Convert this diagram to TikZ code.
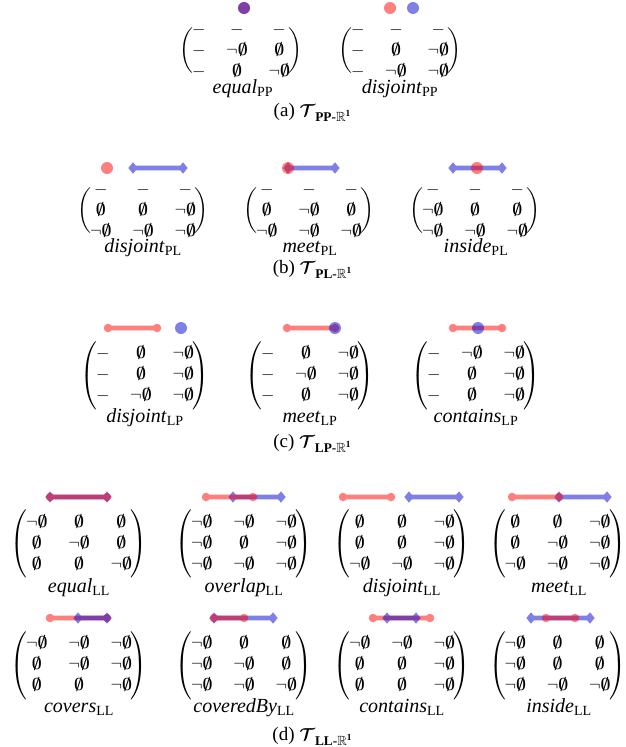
\documentclass[tikz,border=0pt]{standalone}
\usepackage{amsmath,amssymb}
\usepackage{fontspec}
\setmainfont{Liberation Serif}
\usetikzlibrary{shapes.geometric}
\definecolor{redC}{RGB}{255,0,0}
\definecolor{blueC}{RGB}{0,0,210}
\newcommand{\ZE}{\boldsymbol{\emptyset}}
\newcommand{\ZN}{\neg\ZE}
\newcommand{\PM}[1]{\left(\mkern-1.5mu\begin{matrix}#1\end{matrix}\mkern-1.5mu\right)}
\newcommand{\matfont}{\fontsize{19}{21}\selectfont\arraycolsep=10.4pt\relax}
\newcommand{\smalld}{\delimiterfactor=700\relax\delimitershortfall=20pt\relax}
\tikzset{
  mat/.style={inner sep=0pt, font=\matfont},
  lbl/.style={inner sep=0pt, anchor=base, font=\fontsize{20}{24}\selectfont},
  capt/.style={inner sep=0pt, anchor=base, font=\fontsize{19}{23}\selectfont},
  grp/.style={transparency group, opacity=0.5},
  rdot/.style={circle, fill=redC, minimum size=12pt, inner sep=0pt},
  bdot/.style={circle, fill=blueC, minimum size=12pt, inner sep=0pt},
  rcirc/.style={circle, fill=redC, minimum size=8.5pt, inner sep=0pt},
  bdia/.style={diamond, fill=blueC, minimum width=9.5pt, minimum height=11.5pt, inner sep=0pt},
  rseg/.style={draw=redC, line width=4.6pt},
  bseg/.style={draw=blueC, line width=4.6pt},
}
\begin{document}
\begin{tikzpicture}[x=1pt,y=-1pt]
\useasboundingbox (0,0) rectangle (625,747);

% ---------------- (a) PP ----------------
\begin{scope}[grp] \node[rdot] (aEqR) at (244,8) {}; \end{scope}
\begin{scope}[grp] \node[bdot] (aEqB) at (244,8) {}; \end{scope}
\begin{scope}[grp] \node[rdot] (aDjR) at (390,8) {}; \end{scope}
\begin{scope}[grp] \node[bdot] (aDjB) at (413,8) {}; \end{scope}

\node[mat] (mEqPP) at (241,51) {\smalld$\PM{ - & - & - \\ - & \ZN & \ZE \\ - & \ZE & \ZN }$};
\node[mat] (mDjPP) at (400,51) {\smalld$\PM{ - & - & - \\ - & \ZE & \ZN \\ - & \ZN & \ZN }$};
\node[lbl] (lEqPP) at (243,93) {\textit{equal}\textsubscript{\upshape PP}};
\node[lbl] (lDjPP) at (400,93) {\textit{disjoint}\textsubscript{\upshape PP}};
\node[capt] (capA) at (312.5,116) {(a) $\boldsymbol{\mathcal{T}}$\textsubscript{\bfseries PP-$\mathbb{R}^{\mathbf{1}}$}};

% ---------------- (b) PL ----------------
\begin{scope}[grp] \node[rdot] (bDjR) at (107,168) {}; \end{scope}
\begin{scope}[grp]
  \node[bdia] (bDjB1) at (133,168) {}; \node[bdia] (bDjB2) at (183,168) {};
  \draw[bseg] (bDjB1.center) -- (bDjB2.center);
\end{scope}
\begin{scope}[grp]
  \node[bdia] (bMtB1) at (288,168) {}; \node[bdia] (bMtB2) at (335,168) {};
  \draw[bseg] (bMtB1.center) -- (bMtB2.center);
\end{scope}
\begin{scope}[grp] \node[rdot] (bMtR) at (288,168) {}; \end{scope}
\begin{scope}[grp]
  \node[bdia] (bInB1) at (453,168) {}; \node[bdia] (bInB2) at (502,168) {};
  \draw[bseg] (bInB1.center) -- (bInB2.center);
\end{scope}
\begin{scope}[grp] \node[rdot] (bInR) at (477,168) {}; \end{scope}

\node[mat] (mDjPL) at (143,211) {\smalld$\PM{ - & - & - \\ \ZE & \ZE & \ZN \\ \ZN & \ZN & \ZN }$};
\node[mat] (mMtPL) at (309,211) {\smalld$\PM{ - & - & - \\ \ZE & \ZN & \ZE \\ \ZN & \ZN & \ZN }$};
\node[mat] (mInPL) at (475,211) {\smalld$\PM{ - & - & - \\ \ZN & \ZE & \ZE \\ \ZN & \ZN & \ZN }$};
\node[lbl] (lDjPL) at (143,252) {\textit{disjoint}\textsubscript{\upshape PL}};
\node[lbl] (lMtPL) at (310,252) {\textit{meet}\textsubscript{\upshape PL}};
\node[lbl] (lInPL) at (476,252) {\textit{inside}\textsubscript{\upshape PL}};
\node[capt] (capB) at (312.5,273) {(b) $\boldsymbol{\mathcal{T}}$\textsubscript{\bfseries PL-$\mathbb{R}^{\mathbf{1}}$}};

% ---------------- (c) LP ----------------
\begin{scope}[grp]
  \node[rcirc] (cDjR1) at (108,328) {}; \node[rcirc] (cDjR2) at (157,328) {};
  \draw[rseg] (cDjR1.center) -- (cDjR2.center);
\end{scope}
\begin{scope}[grp] \node[bdot] (cDjB) at (181,328) {}; \end{scope}
\begin{scope}[grp]
  \node[rcirc] (cMtR1) at (287,328) {}; \node[rcirc] (cMtR2) at (335,328) {};
  \draw[rseg] (cMtR1.center) -- (cMtR2.center);
\end{scope}
\begin{scope}[grp] \node[bdot] (cMtB) at (335,328) {}; \end{scope}
\begin{scope}[grp]
  \node[rcirc] (cCtR1) at (453,328) {}; \node[rcirc] (cCtR2) at (502,328) {};
  \draw[rseg] (cCtR1.center) -- (cCtR2.center);
\end{scope}
\begin{scope}[grp] \node[bdot] (cCtB) at (478,328) {}; \end{scope}

\node[mat] (mDjLP) at (145,375.5) {$\PM{ - & \ZE & \ZN \\ - & \ZE & \ZN \\ - & \ZN & \ZN }$};
\node[mat] (mMtLP) at (310,375.5) {$\PM{ - & \ZE & \ZN \\ - & \ZN & \ZN \\ - & \ZE & \ZN }$};
\node[mat] (mCtLP) at (476,375.5) {$\PM{ - & \ZN & \ZN \\ - & \ZE & \ZN \\ - & \ZE & \ZN }$};
\node[lbl] (lDjLP) at (145,422) {\textit{disjoint}\textsubscript{\upshape LP}};
\node[lbl] (lMtLP) at (310,422) {\textit{meet}\textsubscript{\upshape LP}};
\node[lbl] (lCtLP) at (476,422) {\textit{contains}\textsubscript{\upshape LP}};
\node[capt] (capC) at (312.5,447) {(c) $\boldsymbol{\mathcal{T}}$\textsubscript{\bfseries LP-$\mathbb{R}^{\mathbf{1}}$}};

% ---------------- (d) LL, row 1 ----------------
\begin{scope}[grp]
  \node[bdia] (dEqB1) at (50,497) {}; \node[bdia] (dEqB2) at (107,497) {};
  \draw[bseg] (dEqB1.center) -- (dEqB2.center);
\end{scope}
\begin{scope}[grp]
  \node[rcirc] (dEqR1) at (50,497) {}; \node[rcirc] (dEqR2) at (107,497) {};
  \draw[rseg] (dEqR1.center) -- (dEqR2.center);
\end{scope}
\begin{scope}[grp]
  \node[bdia] (dOvB1) at (233,497) {}; \node[bdia] (dOvB2) at (281,497) {};
  \draw[bseg] (dOvB1.center) -- (dOvB2.center);
\end{scope}
\begin{scope}[grp]
  \node[rcirc] (dOvR1) at (206,497) {}; \node[rcirc] (dOvR2) at (253,497) {};
  \draw[rseg] (dOvR1.center) -- (dOvR2.center);
\end{scope}
\begin{scope}[grp]
  \node[rcirc] (dDjR1) at (343,497) {}; \node[rcirc] (dDjR2) at (391,497) {};
  \draw[rseg] (dDjR1.center) -- (dDjR2.center);
\end{scope}
\begin{scope}[grp]
  \node[bdia] (dDjB1) at (409,497) {}; \node[bdia] (dDjB2) at (459,497) {};
  \draw[bseg] (dDjB1.center) -- (dDjB2.center);
\end{scope}
\begin{scope}[grp]
  \node[bdia] (dMtB1) at (559,497) {}; \node[bdia] (dMtB2) at (607,497) {};
  \draw[bseg] (dMtB1.center) -- (dMtB2.center);
\end{scope}
\begin{scope}[grp]
  \node[rcirc] (dMtR1) at (512,497) {}; \node[rcirc] (dMtR2) at (559,497) {};
  \draw[rseg] (dMtR1.center) -- (dMtR2.center);
\end{scope}

\node[mat] (mEqLL) at (79,544) {$\PM{ \ZN & \ZE & \ZE \\ \ZE & \ZN & \ZE \\ \ZE & \ZE & \ZN }$};
\node[mat] (mOvLL) at (244,544) {$\PM{ \ZN & \ZN & \ZN \\ \ZN & \ZE & \ZN \\ \ZN & \ZN & \ZN }$};
\node[mat] (mDjLL) at (402,544) {$\PM{ \ZE & \ZE & \ZN \\ \ZE & \ZE & \ZN \\ \ZN & \ZN & \ZN }$};
\node[mat] (mMtLL) at (557.5,544) {$\PM{ \ZE & \ZE & \ZN \\ \ZE & \ZN & \ZN \\ \ZN & \ZN & \ZN }$};
\node[lbl] (lEqLL) at (79,592) {\textit{equal}\textsubscript{\upshape LL}};
\node[lbl] (lOvLL) at (244,592) {\textit{overlap}\textsubscript{\upshape LL}};
\node[lbl] (lDjLL) at (402,592) {\textit{disjoint}\textsubscript{\upshape LL}};
\node[lbl] (lMtLL) at (559,592) {\textit{meet}\textsubscript{\upshape LL}};

% ---------------- (d) LL, row 2 ----------------
\begin{scope}[grp]
  \node[rcirc] (eCvR1) at (50,618) {}; \node[rcirc] (eCvR2) at (107,618) {};
  \draw[rseg] (eCvR1.center) -- (eCvR2.center);
\end{scope}
\begin{scope}[grp]
  \node[bdia] (eCvB1) at (78,618) {}; \node[bdia] (eCvB2) at (107,618) {};
  \draw[bseg] (eCvB1.center) -- (eCvB2.center);
\end{scope}
\begin{scope}[grp]
  \node[bdia] (eCbB1) at (214,618) {}; \node[bdia] (eCbB2) at (273,618) {};
  \draw[bseg] (eCbB1.center) -- (eCbB2.center);
\end{scope}
\begin{scope}[grp]
  \node[rcirc] (eCbR1) at (214,618) {}; \node[rcirc] (eCbR2) at (244,618) {};
  \draw[rseg] (eCbR1.center) -- (eCbR2.center);
\end{scope}
\begin{scope}[grp]
  \node[rcirc] (eCtR1) at (373,618) {}; \node[rcirc] (eCtR2) at (430,618) {};
  \draw[rseg] (eCtR1.center) -- (eCtR2.center);
\end{scope}
\begin{scope}[grp]
  \node[bdia] (eCtB1) at (387,618) {}; \node[bdia] (eCtB2) at (416,618) {};
  \draw[bseg] (eCtB1.center) -- (eCtB2.center);
\end{scope}
\begin{scope}[grp]
  \node[bdia] (eInB1) at (531,618) {}; \node[bdia] (eInB2) at (590,618) {};
  \draw[bseg] (eInB1.center) -- (eInB2.center);
\end{scope}
\begin{scope}[grp]
  \node[rcirc] (eInR1) at (546,618) {}; \node[rcirc] (eInR2) at (575,618) {};
  \draw[rseg] (eInR1.center) -- (eInR2.center);
\end{scope}

\node[mat] (mCvLL) at (79,665.5) {$\PM{ \ZN & \ZN & \ZN \\ \ZE & \ZN & \ZN \\ \ZE & \ZE & \ZN }$};
\node[mat] (mCbLL) at (244,665.5) {$\PM{ \ZN & \ZE & \ZE \\ \ZN & \ZN & \ZE \\ \ZN & \ZN & \ZN }$};
\node[mat] (mCtLL) at (402,665.5) {$\PM{ \ZN & \ZN & \ZN \\ \ZE & \ZE & \ZN \\ \ZE & \ZE & \ZN }$};
\node[mat] (mInLL) at (557.5,665.5) {$\PM{ \ZN & \ZE & \ZE \\ \ZN & \ZE & \ZE \\ \ZN & \ZN & \ZN }$};
\node[lbl] (lCvLL) at (79,712) {\textit{covers}\textsubscript{\upshape LL}};
\node[lbl] (lCbLL) at (244,712) {\textit{coveredBy}\textsubscript{\upshape LL}};
\node[lbl] (lCtLL) at (402,712) {\textit{contains}\textsubscript{\upshape LL}};
\node[lbl] (lInLL) at (559,712) {\textit{inside}\textsubscript{\upshape LL}};
\node[capt] (capD) at (312.5,740) {(d) $\boldsymbol{\mathcal{T}}$\textsubscript{\bfseries LL-$\mathbb{R}^{\mathbf{1}}$}};
\end{tikzpicture}
\end{document}
